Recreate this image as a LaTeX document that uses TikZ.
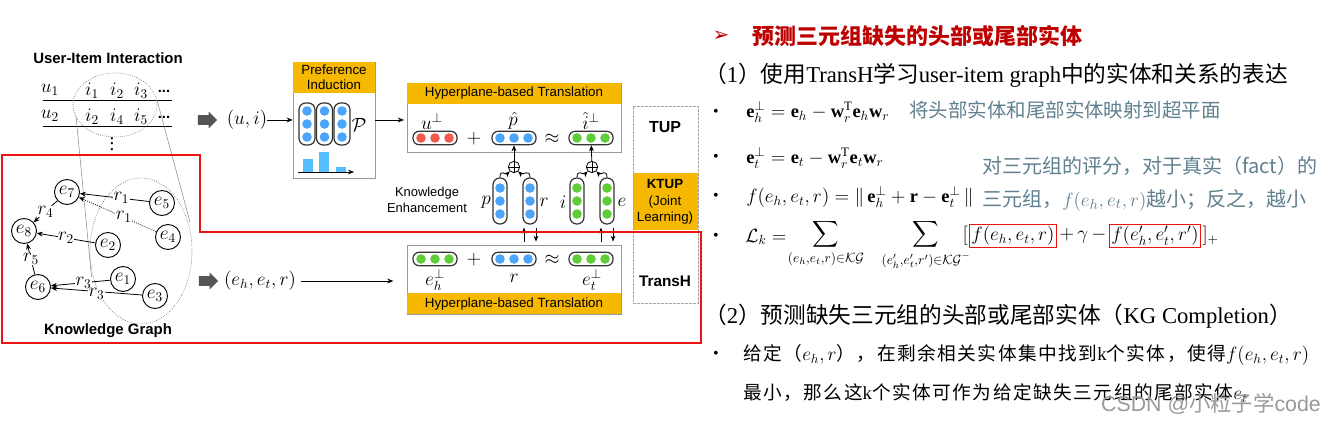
\documentclass[tikz,border=0pt]{standalone}
\usepackage{amsmath,amssymb}
\usepackage{fontspec}
\setmainfont{Liberation Serif}
\setsansfont{Liberation Sans}
\newfontfamily\cjk{Noto Sans CJK SC}
\newfontfamily\cjkwide[LetterSpace=8]{Noto Sans CJK SC}
\newfontfamily\symfont{DejaVu Sans}
\usetikzlibrary{arrows.meta,positioning,calc,shapes.arrows}

\definecolor{hdrOrange}{RGB}{246,184,0}
\definecolor{dotBlue}{RGB}{75,165,250}
\definecolor{dotRed}{RGB}{240,90,75}
\definecolor{dotGreen}{RGB}{95,205,55}
\definecolor{barBlue}{RGB}{85,190,255}
\definecolor{frameRed}{RGB}{235,20,20}
\definecolor{titleRed}{RGB}{190,0,0}
\definecolor{noteGray}{RGB}{95,128,142}
\definecolor{blockGray}{RGB}{85,85,85}

\newcommand{\zh}[1]{{\cjk #1}}
\newcommand{\zw}[1]{{\cjkwide #1}}
\newcommand{\fsz}[1]{\fontsize{#1}{#1}\selectfont}

% capsule holding three dots: [options] name, position, colour
\newcommand{\hcapsule}[4][]{%
  \node[hcap,#1] (#2) at (#3) {};
  \foreach \dd in {-14,0,14} \fill[#4] ($(#2)+(\dd,0)$) circle (3.6pt);
}
\newcommand{\vcapsule}[4][]{%
  \node[vcap,#1] (#2) at (#3) {};
  \foreach \dd in {-13,0,13} \fill[#4] ($(#2)+(0,\dd)$) circle (3.6pt);
}

\begin{document}
\begin{tikzpicture}[x=0.75pt,y=-0.75pt,
  >={Stealth[length=4.5pt,width=3.6pt]},
  arr/.style={->,line width=0.6pt},
  ent/.style={circle,draw,line width=0.7pt,fill=white,minimum size=18.75pt,inner sep=0pt,font=\fsz{14}},
  rel/.style={fill=white,inner sep=0.3pt,font=\fsz{14}},
  mth/.style={inner sep=0pt,font=\fsz{14.2}},
  fml/.style={inner sep=0pt,font=\fsz{13.8}},
  panel/.style={draw=black!40,line width=0.6pt,fill=white,inner sep=0pt},
  hdr/.style={fill=hdrOrange,inner sep=0pt,font=\sffamily\fsz{10}},
  hcap/.style={draw=black!80,line width=0.9pt,fill=white,rounded corners=4.5pt,minimum width=33pt,minimum height=10pt,inner sep=0pt},
  vcap/.style={draw=black!80,line width=0.9pt,fill=white,rounded corners=5pt,minimum width=10.5pt,minimum height=34.5pt,inner sep=0pt},
  oplus/.style={circle,draw,line width=0.6pt,fill=white,minimum size=8.5pt,inner sep=0pt,
    path picture={\draw[line width=0.6pt] (path picture bounding box.north) -- (path picture bounding box.south)
      (path picture bounding box.west) -- (path picture bounding box.east);}},
  blk/.style={single arrow,fill=blockGray,inner sep=0pt,text height=7pt,text depth=0pt,minimum height=14.5pt,minimum width=12pt,
    single arrow head extend=2.6pt,single arrow head indent=0pt},
  txt/.style={anchor=west,inner sep=0pt},
  note/.style={txt,text=noteGray},
  redbox/.style={draw=frameRed,line width=0.8pt,inner sep=1.2pt,font=\fsz{13.8}},
  dotell/.style={draw=black!55,densely dotted,line width=0.5pt},
  tangent/.style={draw=black!45,line width=0.4pt}
]
\useasboundingbox (0,0) rectangle (1337,423);
\fill[white] (0,0) rectangle (1337,423);

% user-item interaction
\node[font=\sffamily\bfseries\fsz{11.2}] (uiTitle) at (108,58) {User-Item Interaction};
\node[mth] (u1) at (50,90) {$u_1$};
\node[mth] (a1) at (92,91) {$i_1$};
\node[mth] (a2) at (117,91) {$i_2$};
\node[mth] (a3) at (141,91) {$i_3$};
\node[font=\sffamily\bfseries\fsz{11}] (aDots) at (164,91) {...};
\draw[line width=0.6pt] (43,100) -- (172,100);
\node[mth] (u2) at (50,116) {$u_2$};
\node[mth] (b1) at (92,117) {$i_2$};
\node[mth] (b2) at (117,117) {$i_4$};
\node[mth] (b3) at (141,117) {$i_5$};
\node[font=\sffamily\bfseries\fsz{11}] (bDots) at (164,117) {...};
\draw[line width=0.6pt] (43,126) -- (172,126);
\node[mth] (vDots) at (112,140) {$\vdots$};

% zoom from the table to the graph
\draw[dotell] (115,105) ellipse [x radius=31.5pt,y radius=24pt];
\draw[dotell] (141,251) ellipse [x radius=38.25pt,y radius=54.75pt];
\draw[tangent] (76,116) -- (92,282);
\draw[tangent] (157,100) -- (190,222);

% knowledge graph
\node[ent] (e7) at (67,192) {$e_7$};
\node[ent] (e5) at (162,203) {$e_5$};
\node[ent] (e8) at (24,231) {$e_8$};
\node[ent] (e4) at (168,237) {$e_4$};
\node[ent] (e2) at (108,245) {$e_2$};
\node[ent] (e1) at (123,279) {$e_1$};
\node[ent] (e6) at (38,287) {$e_6$};
\node[ent] (e3) at (155,296) {$e_3$};

\draw[arr] (e5) -- node[rel,pos=0.4] {$r_1$} (e7);
\draw[arr,densely dotted] (e4) -- node[rel,pos=0.42] {$r_1$} (e7);
\draw[arr] (e7) -- node[rel] {$r_4$} (e8);
\draw[arr] (e2) -- node[rel] {$r_2$} (e8);
\draw[arr] (e6) -- node[rel] {$r_5$} (e8);
\draw[arr] (e1) -- node[rel,pos=0.45] {$r_3$} (e6);
\draw[arr] (e3) -- node[rel,pos=0.5,yshift=-2pt] {$r_3$} (e6);

\node[font=\sffamily\bfseries\fsz{11.2}] (kgTitle) at (108,331) {Knowledge Graph};

% inputs
\node[blk] (blkA) at (205,120) {};
\node[blk] (blkB) at (206,281) {};
\node[mth] (ui) at (247,120) {$(u,i)$};
\node[mth] (triple) at (260,281) {$(e_h,e_t,r)$};

% preference induction
\node[panel,minimum width=61.5pt,minimum height=87pt] (pref) at (334,120) {};
\node[hdr,minimum width=61.5pt,minimum height=23.25pt,anchor=north,align=center,
  font=\sffamily\fontsize{10}{11.5}\selectfont] (prefHdr) at (pref.north) {Preference\\Induction};
\vcapsule[minimum width=12pt,minimum height=31.5pt]{prefA}{307,124}{dotBlue}
\vcapsule[minimum width=12pt,minimum height=31.5pt]{prefB}{324.5,124}{dotBlue}
\vcapsule[minimum width=12pt,minimum height=31.5pt]{prefC}{342,124}{dotBlue}
\node[inner sep=0pt,font=\fsz{14}] (prefP) at (359,125) {$\mathcal{P}$};
\fill[barBlue] (303,159) rectangle (313,172);
\fill[barBlue] (319,152) rectangle (329,172);
\fill[barBlue] (336,167) rectangle (346,172);
\draw[->,line width=0.6pt] (298,172) -- (354,172);

% hyperplane translation, TUP side
\node[panel,minimum width=160.5pt,minimum height=51.75pt] (hypT) at (514,117.5) {};
\node[hdr,minimum width=160.5pt,minimum height=15.75pt,anchor=north] (hypTHdr) at (hypT.north) {Hyperplane-based Translation};
\hcapsule{uPerp}{435,138}{dotRed}
\hcapsule{pHat}{514,138}{dotBlue}
\hcapsule{iPerp}{591,138}{dotGreen}
\node[mth] (uLbl) at (432,121) {$u^{\perp}$};
\node[mth] (pLbl) at (513,121) {$\hat{p}$};
\node[mth] (iLbl) at (591,121) {$\hat{i}^{\perp}$};
\node[mth] (plusT) at (474,139) {$+$};
\node[mth] (apxT) at (552,139) {$\approx$};

% hyperplane translation, TransH side
\node[panel,minimum width=160.5pt,minimum height=51.75pt] (hypB) at (514,279.5) {};
\node[hdr,minimum width=160.5pt,minimum height=15.75pt,anchor=south] (hypBHdr) at (hypB.south) {Hyperplane-based Translation};
\hcapsule{ehPerp}{435,259}{dotGreen}
\hcapsule{rVec}{514,259}{dotBlue}
\hcapsule{etPerp}{591,259}{dotGreen}
\node[mth] (ehLbl) at (435,280) {$e_h^{\perp}$};
\node[mth] (rLbl) at (514,278) {$r$};
\node[mth] (etLbl) at (592,280) {$e_t^{\perp}$};
\node[mth] (plusB) at (474,260) {$+$};
\node[mth] (apxB) at (552,260) {$\approx$};

% knowledge enhancement
\node[align=center,inner sep=0pt,font=\sffamily\fontsize{9.7}{12}\selectfont] (kgEnh) at (427,200) {Knowledge\\Enhancement};
\vcapsule{capP}{500,201}{dotBlue}
\vcapsule{capR}{530,201}{dotBlue}
\vcapsule{capI}{577,201}{dotGreen}
\vcapsule{capE}{607,201}{dotGreen}
\node[mth] (pVar) at (486,202) {$p$};
\node[mth] (rVar) at (544,202) {$r$};
\node[mth] (iVar) at (563,202) {$i$};
\node[mth] (eVar) at (622,202) {$e$};
\node[oplus] (sumPR) at (514,167) {};
\node[oplus] (sumIE) at (592,167) {};
\draw[arr] (capP.north) .. controls +(0,-9) and +(-4,4) .. (sumPR.south west);
\draw[arr] (capR.north) .. controls +(0,-9) and +(4,4) .. (sumPR.south east);
\draw[arr] (capI.north) .. controls +(0,-9) and +(-4,4) .. (sumIE.south west);
\draw[arr] (capE.north) .. controls +(0,-9) and +(4,4) .. (sumIE.south east);
\draw[arr] (sumPR) -- (pHat);
\draw[arr] (sumIE) -- (iPerp);
\draw[arr] ($(capR.south|-hypB.north)+(-6,-3)$) -- ($(capR.south)+(-6,3)$);
\draw[arr] ($(capR.south)+(6,3)$) -- ($(capR.south|-hypB.north)+(6,-3)$);
\draw[arr] ($(capE.south|-hypB.north)+(-6,-3)$) -- ($(capE.south)+(-6,3)$);
\draw[arr] ($(capE.south)+(6,3)$) -- ($(capE.south|-hypB.north)+(6,-3)$);

% flow
\draw[arr] (ui) -- (pref);
\draw[arr,shorten >=2pt] (pref.east) -- (pref.east -| hypT.west);
\draw[arr,shorten <=4pt,shorten >=10pt] (triple.east) -- (triple.east -| hypB.west);

% model column
\node[fill=hdrOrange,minimum width=48.75pt,minimum height=42.75pt,inner sep=0pt] (ktup) at (665.5,201.5) {};
\node[draw=black!35,dash pattern=on 2pt off 1pt,line width=0.6pt,minimum width=48.75pt,minimum height=147.75pt,inner sep=0pt] (tup) at (665.5,204.5) {};
\node[font=\sffamily\bfseries\fsz{12}] (tupLbl) at (665,127) {TUP};
\node[align=center,inner sep=0pt,font=\sffamily\fontsize{10}{12.4}\selectfont] (ktupLbl) at (665,202) {\textbf{KTUP}\\(Joint\\Learning)};
\node[font=\sffamily\bfseries\fsz{11.5}] (transhLbl) at (665,281) {TransH};

% highlighted region
\draw[frameRed,line width=1.5pt] (2,155) -| (200,232) -| (701,343) -| (2,155) -- cycle;

% notes on the right
\node[text=titleRed,inner sep=0pt,font=\symfont\fsz{15}] (tArrow) at (721,36) {➢};
\node[txt,text=titleRed,font=\cjk\bfseries\fsz{16.5}] (title) at (752,36) {预测三元组缺失的头部或尾部实体};
\node[txt,font=\fsz{17}] (secA) at (704,75) {\zh{（}1\zh{）使用}TransH\zh{学习}user-item graph\zh{中的实体和关系的表达}};
\foreach \yy in {113,158,197,237,355} \node[font=\fsz{12}] (bul\yy) at (716,\yy) {•};
\node[txt,font=\fsz{13.8}] (eqA) at (746,112) {$\mathbf{e}_h^{\perp}=\mathbf{e}_h-\mathbf{w}_r^{\mathrm{T}}\mathbf{e}_h\mathbf{w}_r$};
\node[note,font=\fsz{14.6}] (noteA) at (909,110) {\zh{将头部实体和尾部实体映射到超平面}};
\node[txt,font=\fsz{13.8}] (eqB) at (746,158) {$\mathbf{e}_t^{\perp}=\mathbf{e}_t-\mathbf{w}_r^{\mathrm{T}}\mathbf{e}_t\mathbf{w}_r$};
\node[note,font=\fsz{15}] (noteB) at (982,166) {\zh{对三元组的评分，对于真实（fact）的}};
\node[note,font=\fsz{15}] (noteC) at (982,200) {\zh{三元组，}$f(e_h,e_t,r)$\zh{越小；反之，越小}};
\node[txt,font=\fsz{13.8}] (eqC) at (746,197) {$f(e_h,e_t,r)=\|\,\mathbf{e}_h^{\perp}+\mathbf{r}-\mathbf{e}_t^{\perp}\,\|$};
\node[txt,font=\fsz{13.8}] (lossL) at (745,237) {$\mathcal{L}_k=$};
\node[fml] (sumA) at (826,244) {$\displaystyle\sum_{(e_h,e_t,r)\in\mathcal{KG}}$};
\node[fml] (sumB) at (926,245) {$\displaystyle\sum_{(e'_h,e'_t,r')\in\mathcal{KG}^-}$};
\node[redbox] (fPos) at (1013,236) {$f(e_h,e_t,r)$};
\node[fml,left=1pt of fPos] (lBr) {$[$};
\node[fml,right=2pt of fPos] (gam) {$+\,\gamma\,-$};
\node[redbox,right=2pt of gam] (fNeg) {$f(e'_h,e'_t,r')$};
\node[fml,right=1pt of fNeg] (rBr) {$]_+$};
\node[txt,font=\fsz{17}] (secB) at (704,316) {\zh{（}2\zh{）预测缺失三元组的头部或尾部实体（}KG Completion\zh{）}};
\node[txt,font=\fsz{14}] (stepA) at (743,355) {\zw{给定（}$e_h,r$\zw{），在剩余相关实体集中找到}k\zw{个实体，使得}$f(e_h,e_t,r)$};
\node[txt,font=\fsz{14}] (stepB) at (743,393) {\zw{最小，那么这}k\zw{个实体可作为给定缺失三元组的尾部实体}$e_t$};
\node[text=black!40,font=\sffamily\fsz{16}] (wm) at (1211,404) {CSDN @\zh{小粒子学}code};
\end{tikzpicture}
\end{document}
